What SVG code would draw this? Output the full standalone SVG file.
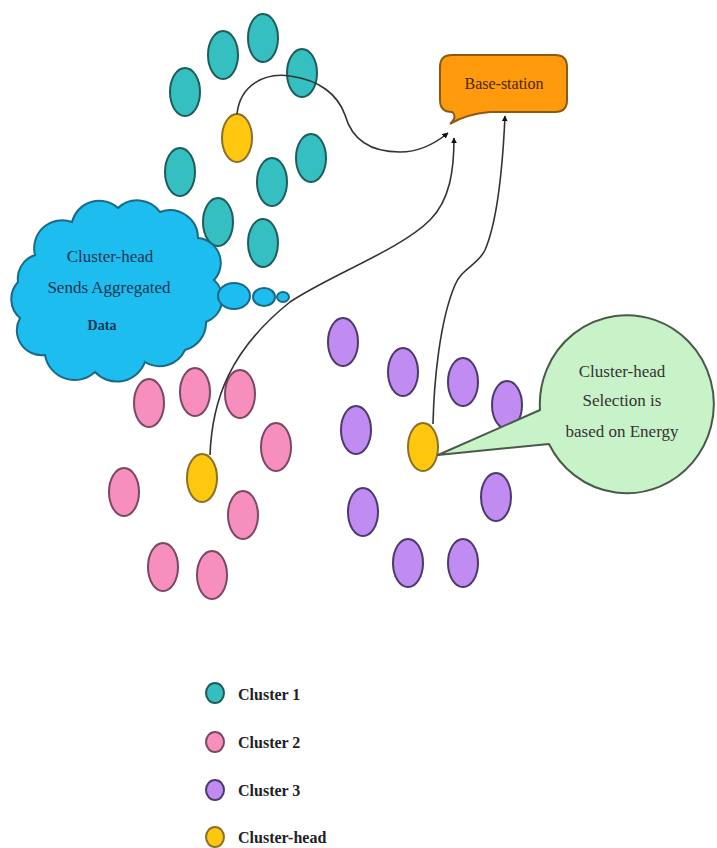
<svg xmlns="http://www.w3.org/2000/svg" width="717" height="848" viewBox="0 0 717 848">
<defs>
<style>
.c1{fill:#35bfc0;stroke:#1f5c5e;stroke-width:2}
.c2{fill:#f78fbe;stroke:#7a4860;stroke-width:2}
.c3{fill:#c08cf2;stroke:#4b3a6c;stroke-width:2}
.ch{fill:#ffc80f;stroke:#8a7028;stroke-width:2}
.edge{fill:none;stroke:#333;stroke-width:1.6}
.t{font-family:"Liberation Serif",serif;text-anchor:middle}
.leg{font-family:"Liberation Serif",serif;font-weight:bold;font-size:16px;fill:#222}
</style>
<marker id="arr" viewBox="0 0 10 10" refX="9" refY="5" markerWidth="6" markerHeight="6" orient="auto" markerUnits="userSpaceOnUse">
<path d="M0 0 L10 5 L0 10 Z" fill="#111"/>
</marker>
</defs>
<rect width="717" height="848" fill="#fff"/>

<g id="cluster1">
<ellipse class="c1" cx="223" cy="55" rx="15" ry="24"/>
<ellipse class="c1" cx="263" cy="38" rx="15" ry="24"/>
<ellipse class="c1" cx="302" cy="73" rx="15" ry="24"/>
<ellipse class="c1" cx="185" cy="92" rx="15" ry="24"/>
<ellipse class="c1" cx="180" cy="172" rx="15" ry="24"/>
<ellipse class="c1" cx="272" cy="182" rx="15" ry="24"/>
<ellipse class="c1" cx="311" cy="158" rx="15" ry="24"/>
<ellipse class="c1" cx="218" cy="222" rx="15" ry="24"/>
<ellipse class="c1" cx="263" cy="243" rx="15" ry="24"/>
</g>
<g id="ch1"><ellipse class="ch" cx="237" cy="138" rx="15" ry="24"/></g>

<g id="cluster2">
<ellipse class="c2" cx="149" cy="403" rx="15" ry="24"/>
<ellipse class="c2" cx="195" cy="392" rx="15" ry="24"/>
<ellipse class="c2" cx="240" cy="394" rx="15" ry="24"/>
<ellipse class="c2" cx="276" cy="447" rx="15" ry="24"/>
<ellipse class="c2" cx="124" cy="492" rx="15" ry="24"/>
<ellipse class="c2" cx="243" cy="515" rx="15" ry="24"/>
<ellipse class="c2" cx="163" cy="567" rx="15" ry="24"/>
<ellipse class="c2" cx="212" cy="575" rx="15" ry="24"/>
</g>
<g id="ch2"><ellipse class="ch" cx="202" cy="478" rx="15" ry="24"/></g>

<g id="cluster3">
<ellipse class="c3" cx="343" cy="342" rx="15" ry="24"/>
<ellipse class="c3" cx="403" cy="372" rx="15" ry="24"/>
<ellipse class="c3" cx="463" cy="382" rx="15" ry="24"/>
<ellipse class="c3" cx="507" cy="405" rx="15" ry="24"/>
<ellipse class="c3" cx="356" cy="430" rx="15" ry="24"/>
<ellipse class="c3" cx="363" cy="512" rx="15" ry="24"/>
<ellipse class="c3" cx="496" cy="497" rx="15" ry="24"/>
<ellipse class="c3" cx="408" cy="563" rx="15" ry="24"/>
<ellipse class="c3" cx="463" cy="563" rx="15" ry="24"/>
</g>
<g id="ch3"><ellipse class="ch" cx="423" cy="447" rx="15" ry="24"/></g>

<g id="base-station">
<path d="M452 55 H555 Q567 55 567 67 V100 Q567 112 555 112 H490 Q466 114 450 124 Q458 116 452 112 Q440 112 440 100 V67 Q440 55 452 55 Z" fill="#ff9a0c" stroke="#8a5a12" stroke-width="2"/>
<text class="t" x="504" y="89" font-size="16" fill="#4a2800">Base-station</text>
</g>

<g id="cloud">
<path d="M35 255 A28 28 0 0 1 72 222 A28 28 0 0 1 118 208 A28 28 0 0 1 160 212 A28 28 0 0 1 198 238 A25 25 0 0 1 214 280 A25 25 0 0 1 206 322 A28 28 0 0 1 185 350 A28 28 0 0 1 145 362 A30 30 0 0 1 95 372 A30 30 0 0 1 45 355 A25 25 0 0 1 20 318 A25 25 0 0 1 18 282 A25 25 0 0 1 35 255 Z" fill="#1ebdf0" stroke="#1a6a86" stroke-width="2"/>
<ellipse cx="234" cy="296" rx="16" ry="13" fill="#1ebdf0" stroke="#1a6a86" stroke-width="2"/>
<ellipse cx="264" cy="297" rx="11" ry="9" fill="#1ebdf0" stroke="#1a6a86" stroke-width="2"/>
<ellipse cx="283" cy="297" rx="6" ry="5" fill="#1ebdf0" stroke="#1a6a86" stroke-width="2"/>
<text class="t" x="110" y="262" font-size="17" fill="#1a3550">Cluster-head</text>
<text class="t" x="109" y="293" font-size="17" fill="#1a3550">Sends Aggregated</text>
<text class="t" x="102" y="330" font-size="14" font-weight="bold" fill="#1a3550">Data</text>
</g>

<g id="connectors">
<path class="edge" stroke-width="2" d="M237 114 C240 85 265 72 290 76 C320 80 338 95 345 115 C352 140 370 152 400 152 C420 152 437 142 448 133" marker-end="url(#arr)"/>
<path class="edge" d="M210 455 C212 400 230 350 290 302 C330 275 400 250 430 220 C450 200 454 170 454 138" marker-end="url(#arr)"/>
<path class="edge" d="M433 424 C434 380 440 320 455 285 C462 268 478 265 485 250 C498 220 503 160 505 116" marker-end="url(#arr)"/>
</g>

<g id="energy-bubble">
<path d="M438 455 L540 410 A87 89 0 1 1 549 444 Z" fill="#c8f2c8" stroke="#4a5a48" stroke-width="2" stroke-linejoin="round"/>
<text class="t" x="622" y="377" font-size="17" fill="#333">Cluster-head</text>
<text class="t" x="622" y="406" font-size="17" fill="#333">Selection is</text>
<text class="t" x="622" y="437" font-size="17" fill="#333">based on Energy</text>
</g>

<g id="legend">
<ellipse class="c1" cx="215" cy="693" rx="9" ry="10"/>
<text class="leg" x="238" y="700">Cluster 1</text>
<ellipse class="c2" cx="215" cy="742" rx="9" ry="10"/>
<text class="leg" x="238" y="748">Cluster 2</text>
<ellipse class="c3" cx="215" cy="790" rx="9" ry="10"/>
<text class="leg" x="238" y="796">Cluster 3</text>
<ellipse class="ch" cx="215" cy="837" rx="9" ry="10"/>
<text class="leg" x="238" y="843">Cluster-head</text>
</g>
</svg>
